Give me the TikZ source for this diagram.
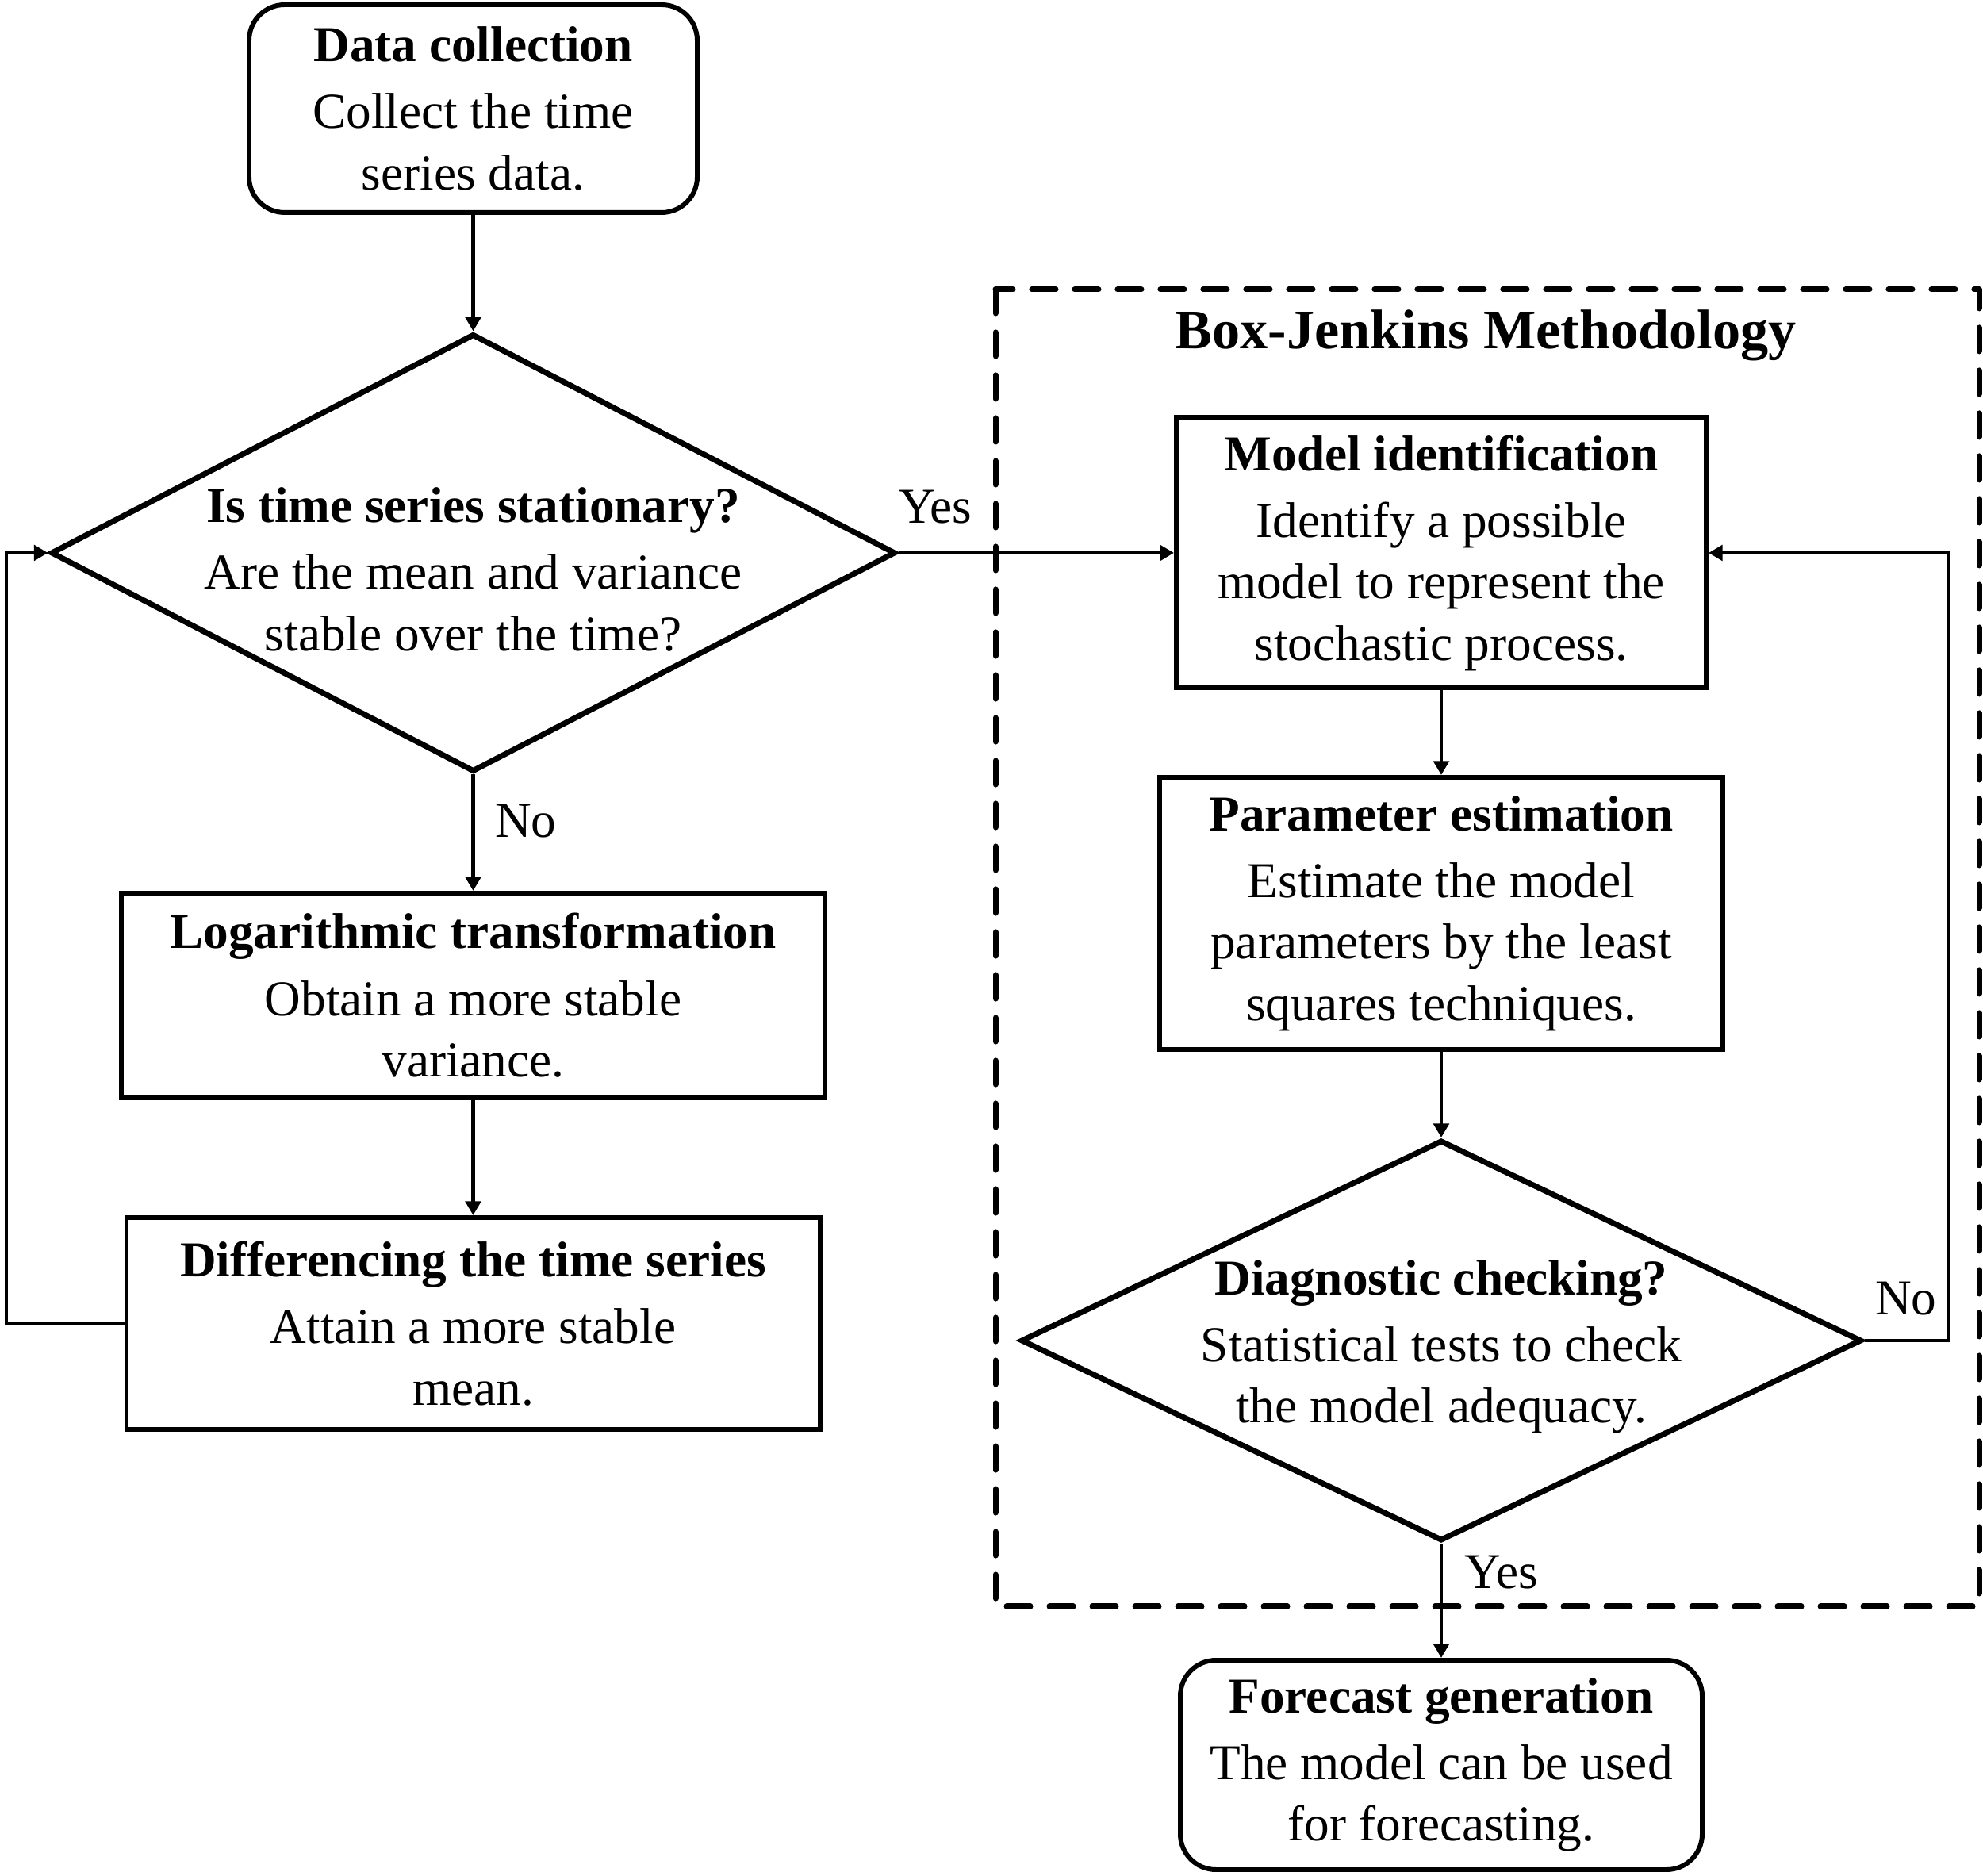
\documentclass[tikz,border=0pt]{standalone}
\usepackage{fontspec}
\setmainfont{Liberation Serif}
\usetikzlibrary{arrows.meta,positioning,shapes.geometric}

\begin{document}
\begin{tikzpicture}[
    >={Triangle[length=5pt,width=5.5pt]},
    every node/.style={font=\fontsize{18}{22}\selectfont},
    terminal/.style={draw,rounded corners=0.45cm,line width=1.7pt,align=center,inner sep=0pt},
    process/.style={draw,line width=1.7pt,align=center,inner sep=0pt},
    decision/.style={draw,diamond,line width=2pt,inner sep=0pt},
    flow/.style={line width=1.4pt},
    region/.style={line width=2pt,dash pattern=on 0.30cm off 0.24cm,line cap=round,line join=round}
]
  \useasboundingbox (0,0) rectangle (25,23.64);

  % left column
  \node[terminal,minimum width=5.65cm,minimum height=2.62cm] (data) at (5.965,22.27)
    {\textbf{Data collection}\\[2pt]Collect the time\\series data.};
  \node[decision,minimum width=10.65cm,minimum height=5.52cm] (stat) at (5.965,16.67) {};
  \node[align=center] (stattxt) at ([yshift=-0.21cm]stat.center)
    {\textbf{Is time series stationary?}\\[2pt]Are the mean and variance\\stable over the time?};
  \node[process,minimum width=8.87cm,minimum height=2.58cm] (log) at (5.965,11.09)
    {\textbf{Logarithmic transformation}\\[2pt]Obtain a more stable\\variance.};
  \node[process,minimum width=8.74cm,minimum height=2.67cm] (diff) at (5.965,6.955)
    {\textbf{Differencing the time series}\\[2pt]Attain a more stable\\mean.};

  % Box-Jenkins part
  \draw[region] (12.55,19.99) rectangle (24.95,3.39);
  \node[font=\fontsize{20}{24}\selectfont\bfseries] (bjtitle) at (18.73,19.41) {Box-Jenkins Methodology};
  \node[process,minimum width=6.68cm,minimum height=3.41cm] (model) at (18.17,16.67)
    {\textbf{Model identification}\\[2pt]Identify a possible\\model to represent the\\stochastic process.};
  \node[process,minimum width=7.10cm,minimum height=3.43cm] (param) at (18.17,12.125)
    {\textbf{Parameter estimation}\\[2pt]Estimate the model\\parameters by the least\\squares techniques.};
  \node[decision,minimum width=10.60cm,minimum height=5.05cm] (diag) at (18.17,6.74) {};
  \node[align=center] (diagtxt) at ([yshift=-0.08cm]diag.center)
    {\textbf{Diagnostic checking?}\\[2pt]Statistical tests to check\\the model adequacy.};
  \node[terminal,minimum width=6.58cm,minimum height=2.64cm] (forecast) at (18.17,1.39)
    {\textbf{Forecast generation}\\[2pt]The model can be used\\for forecasting.};

  % connectors
  \coordinate (lpt) at (0.08,0);
  \coordinate (rpt) at (24.57,0);
  \draw[flow,->] (data.south) -- (stat.north);
  \draw[flow,->] (stat.south) -- (log.north);
  \draw[flow,->] (log.south) -- (diff.north);
  \draw[flow,->] (diff.west) -- (diff.west -| lpt) |- (stat.west);
  \draw[flow,->] (stat.east) -- (model.west);
  \draw[flow,->] (model.south) -- (param.north);
  \draw[flow,->] (param.south) -- (diag.north);
  \draw[flow,->] (diag.east) -- (diag.east -| rpt) |- (model.east);
  \draw[flow,->] (diag.south) -- (forecast.north);

  \node[anchor=base west,inner sep=0pt] (yes1) at ([yshift=0.37cm]stat.east) {Yes};
  \node[anchor=base west,inner sep=0pt] (no1) at ([xshift=0.27cm,yshift=-0.79cm]stat.south) {No};
  \node[anchor=base west,inner sep=0pt] (no2) at ([xshift=0.13cm,yshift=0.32cm]diag.east) {No};
  \node[anchor=base west,inner sep=0pt] (yes2) at ([xshift=0.29cm,yshift=-0.56cm]diag.south) {Yes};
\end{tikzpicture}
\end{document}
